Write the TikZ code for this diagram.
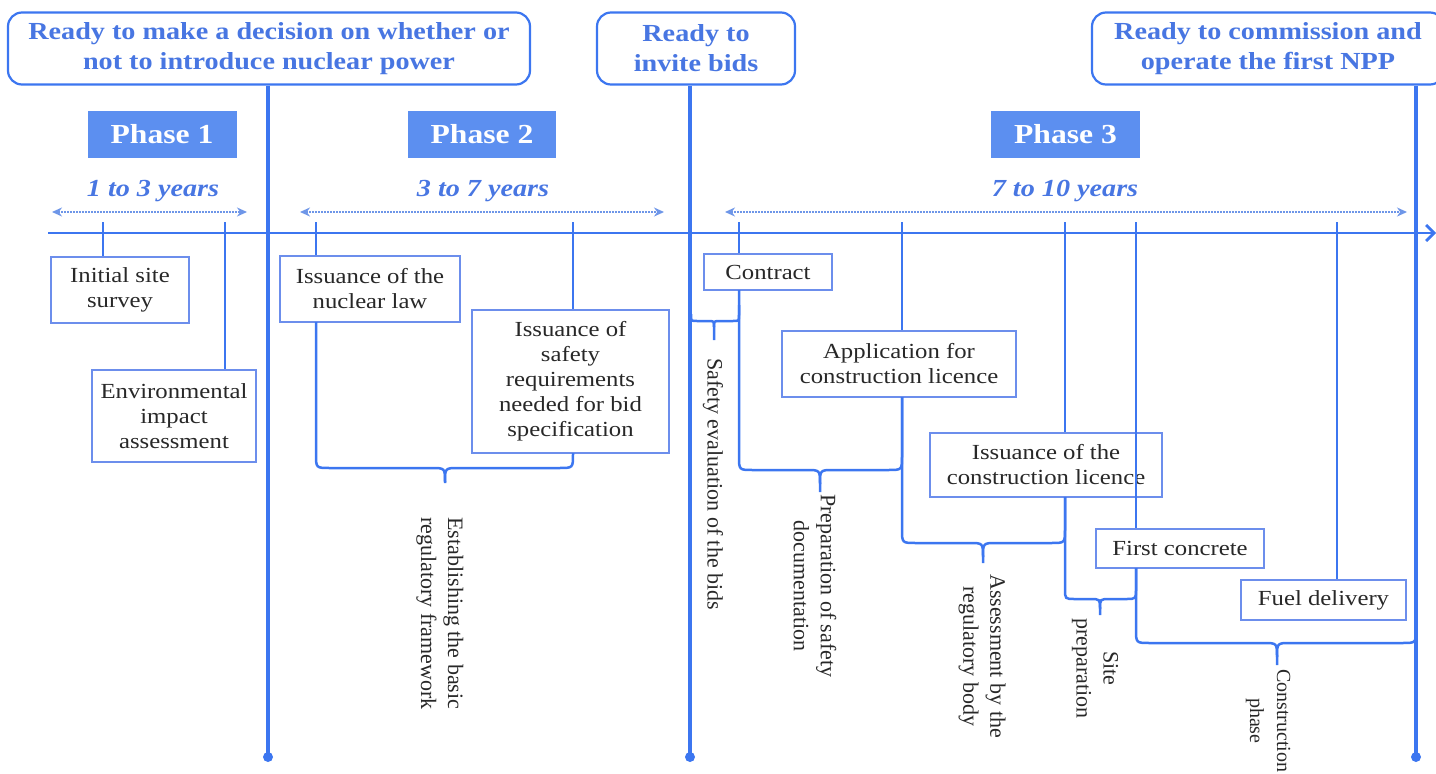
\documentclass[tikz,border=0pt]{standalone}
\usepackage{fontspec}
\setmainfont{Liberation Serif}
\newfontfamily\widefont[FakeStretch=1.15]{Liberation Serif}
\usetikzlibrary{arrows.meta}

\definecolor{lineblue}{RGB}{60,118,240}
\definecolor{phaseblue}{RGB}{92,143,240}
\definecolor{textblue}{RGB}{72,118,226}
\definecolor{boxblue}{RGB}{108,142,236}
\definecolor{dotblue}{RGB}{110,150,232}
\definecolor{labelgray}{RGB}{40,40,40}

% curly bracket under a group of activities:
% #1,#2 left arm top, #3,#4 right arm top, #5 level, #6 tip x, #7 tip y, #8 corner radius
\newcommand\bracepath[8]{%
  \draw[bracket] (#1,#2) -- (#1,#5-#8) .. controls (#1,#5) .. (#1+#8,#5)
    -- (#6-#8,#5) .. controls (#6,#5) .. (#6,#5+#8) -- (#6,#7);
  \draw[bracket] (#6,#5+#8) .. controls (#6,#5) .. (#6+#8,#5)
    -- (#3-#8,#5) .. controls (#3,#5) .. (#3,#5-#8) -- (#3,#4);}

\tikzset{
  milestone/.style={draw=lineblue, line width=2.2pt, rounded corners=14pt, fill=white,
    text=textblue, font=\widefont\fontsize{24.5}{30}\selectfont\bfseries, align=center, inner sep=0pt},
  phasebox/.style={fill=phaseblue, text=white,
    font=\widefont\fontsize{27.5}{30}\selectfont\bfseries, inner sep=0pt},
  event/.style={draw=boxblue, line width=1.6pt, fill=white, text=labelgray,
    font=\widefont\fontsize{21.5}{25}\selectfont, align=center, inner sep=0pt},
  span/.style={text=textblue, font=\widefont\fontsize{24.5}{28}\selectfont\bfseries\itshape, inner sep=0pt},
  note/.style={rotate=-90, anchor=west, text=labelgray,
    font=\fontsize{22}{27}\selectfont, align=center, inner sep=0pt},
  axis/.style={draw=lineblue, line width=2.8pt},
  mainline/.style={draw=lineblue, line width=3.6pt},
  tickline/.style={draw=lineblue, line width=2.8pt},
  bracket/.style={draw=lineblue, line width=2.5pt},
  duration/.style={draw=dotblue, line width=1.5pt, dash pattern=on 2pt off 1pt,
    {Stealth[length=10pt,width=9pt]}-{Stealth[length=10pt,width=9pt]}},
}

\begin{document}
\begin{tikzpicture}[x=1pt,y=-1pt]
\useasboundingbox (0,0) rectangle (1436,774);
\clip (0,0) rectangle (1436,774);

% time axis
\coordinate (axisL) at (48,233);
\coordinate (axisR) at (1436,233);
\draw[axis, -{Straight Barb[length=8pt,width=16pt]}] (axisL) -- (axisR);

% milestones
\node[milestone, minimum width=522, minimum height=72] (m1) at (269,48.5)
  {Ready to make a decision on whether or\\not to introduce nuclear power};
\node[milestone, minimum width=198, minimum height=72] (m2) at (696,48.5)
  {Ready to\\invite bids};
\node[milestone, minimum width=352, minimum height=72] (m3) at (1268,48.5)
  {Ready to commission and\\operate the first NPP};

\coordinate (e1) at (268,757);
\coordinate (e2) at (690,757);
\coordinate (e3) at (1416,757);
\draw[mainline] (m1.south -| e1) -- (e1);
\draw[mainline] (m2.south -| e2) -- (e2);
\draw[mainline] (m3.south -| e3) -- (e3);
\fill[lineblue] (e1) circle (5);
\fill[lineblue] (e2) circle (5);
\fill[lineblue] (e3) circle (5);

% phases
\node[phasebox, minimum width=149, minimum height=47] (p1) at (162,134) {Phase 1};
\node[phasebox, minimum width=148, minimum height=47] (p2) at (482,134.5) {Phase 2};
\node[phasebox, minimum width=149, minimum height=47] (p3) at (1065.5,134.5) {Phase 3};

\node[span] (y1) at (153,191) {1 to 3 years};
\node[span] (y2) at (483,191) {3 to 7 years};
\node[span] (y3) at (1065,191) {7 to 10 years};

\coordinate (d1a) at (52,212);  \coordinate (d1b) at (247,212);
\coordinate (d2a) at (300,212); \coordinate (d2b) at (664,212);
\coordinate (d3a) at (725,212); \coordinate (d3b) at (1407,212);
\draw[duration] (d1a) -- (d1b);
\draw[duration] (d2a) -- (d2b);
\draw[duration] (d3a) -- (d3b);

% activities
\node[event, minimum width=138, minimum height=66] (survey) at (120,290) {Initial site\\survey};
\node[event, minimum width=164, minimum height=92] (eia) at (174,416) {Environmental\\impact\\assessment};
\node[event, minimum width=180, minimum height=66] (law) at (370,289) {Issuance of the\\nuclear law};
\node[event, minimum width=197, minimum height=143] (safety) at (570.5,381.5)
  {Issuance of\\safety\\requirements\\needed for bid\\specification};
\node[event, minimum width=128, minimum height=36] (contract) at (768,272) {Contract};
\node[event, minimum width=234, minimum height=66] (appl) at (899,364) {Application for\\construction licence};
\node[event, minimum width=232, minimum height=64] (issue) at (1046,465) {Issuance of the\\construction licence};
\node[event, minimum width=168, minimum height=39] (concrete) at (1180,548.5) {First concrete};
\node[event, minimum width=165, minimum height=40] (fuel) at (1323.5,600) {Fuel delivery};

% ticks from the axis down to each activity
\coordinate (c1) at (103,222);
\coordinate (c2) at (225,222);
\coordinate (c3) at (316,222);
\coordinate (c4) at (573,222);
\coordinate (c5) at (739,222);
\coordinate (c6) at (902,222);
\coordinate (c7) at (1065,222);
\coordinate (c8) at (1136,222);
\coordinate (c9) at (1337,222);
\draw[tickline] (c1) -- (c1 |- survey.north);
\draw[tickline] (c2) -- (c2 |- eia.north);
\draw[tickline] (c3) -- (c3 |- law.north);
\draw[tickline] (c4) -- (c4 |- safety.north);
\draw[tickline] (c5) -- (c5 |- contract.north);
\draw[tickline] (c6) -- (c6 |- appl.north);
\draw[tickline] (c7) -- (c7 |- issue.north);
\draw[tickline] (c8) -- (c8 |- concrete.north);
\draw[tickline] (c9) -- (c9 |- fuel.north);

% grouping brackets
\bracepath{316}{322}{573}{453}{468}{445}{483}{14}
\bracepath{691}{314}{739}{305}{321}{714}{340}{6}
\bracepath{739}{290}{902}{397}{470}{820}{492}{14}
\bracepath{902}{397}{1065}{497}{543}{983}{563}{14}
\bracepath{1065}{497}{1136}{568}{599}{1100}{615}{10}
\bracepath{1136}{568}{1416}{628}{643}{1277}{665}{14}

% bracket labels
\node[note] (framework) at (440,517) {Establishing the basic\\regulatory framework};
\node[note] (bideval) at (713,358) {Safety evaluation of the bids};
\node[note] (prepdoc) at (815,494) {Preparation of safety\\documentation};
\node[note] (assess) at (982,574) {Assessment by the\\regulatory body};
\node[note] (siteprep) at (1095,618) {Site\\preparation};
\node[note, font=\fontsize{20}{27}\selectfont] (constr) at (1268,669) {Construction\\phase};
\end{tikzpicture}
\end{document}
